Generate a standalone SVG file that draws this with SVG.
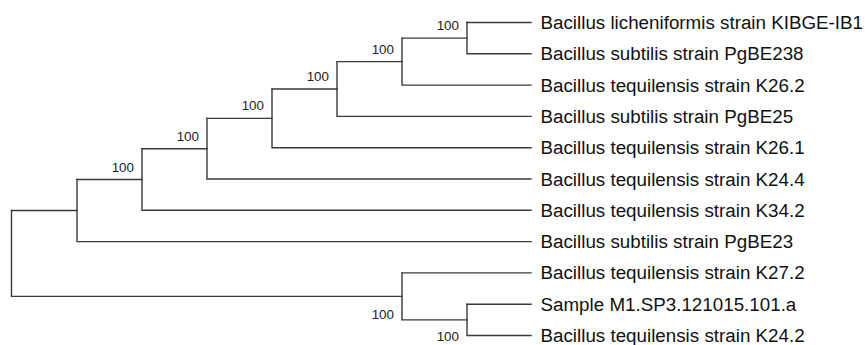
<svg xmlns="http://www.w3.org/2000/svg" width="865" height="345" viewBox="0 0 865 345">
<style>
.edge{fill:none;stroke:#3a3a3a;stroke-width:1.4;stroke-linecap:square}
.leaf{font-family:"Liberation Sans",Arial,sans-serif;font-size:18.8px;fill:#111}
.bs{font-family:"Liberation Sans",Arial,sans-serif;font-size:13.4px;fill:#222;text-anchor:end}
</style>
<rect width="865" height="345" fill="#fff"/>
<g id="connectors">
<path class="edge" d="M11.5,210.55 V296.4 H402"/>
<path class="edge" d="M11.5,210.55 H77"/>
<path class="edge" d="M77,179.5 V241.6 H531"/>
<path class="edge" d="M77,179.5 H142"/>
<path class="edge" d="M142,148.7 V210.3 H531"/>
<path class="edge" d="M142,148.7 H207"/>
<path class="edge" d="M207,118.35 V179 H531"/>
<path class="edge" d="M207,118.35 H272"/>
<path class="edge" d="M272,89 V147.7 H531"/>
<path class="edge" d="M272,89 H337"/>
<path class="edge" d="M337,61.6 V116.4 H531"/>
<path class="edge" d="M337,61.6 H402"/>
<path class="edge" d="M402,38.15 V85.1 H531"/>
<path class="edge" d="M402,38.15 H467"/>
<path class="edge" d="M467,22.5 V53.8 H531"/>
<path class="edge" d="M467,22.5 H531"/>
<path class="edge" d="M402,272.9 V319.85 H467"/>
<path class="edge" d="M402,272.9 H531"/>
<path class="edge" d="M467,304.2 V335.5 H531"/>
<path class="edge" d="M467,304.2 H531"/>
</g>
<g id="node-A"><text class="bs" x="459" y="30.2">100</text></g>
<g id="node-B"><text class="bs" x="394" y="53.6">100</text></g>
<g id="node-C"><text class="bs" x="329" y="81">100</text></g>
<g id="node-D"><text class="bs" x="264" y="110.3">100</text></g>
<g id="node-E"><text class="bs" x="199" y="140.7">100</text></g>
<g id="node-F"><text class="bs" x="134" y="171.5">100</text></g>
<g id="node-H"><text class="bs" x="394" y="318.5">100</text></g>
<g id="node-I"><text class="bs" x="459" y="340.5">100</text></g>
<g id="leaf-1"><text class="leaf" x="540.5" y="29">Bacillus licheniformis strain KIBGE-IB1</text></g>
<g id="leaf-2"><text class="leaf" x="540.5" y="60.3">Bacillus subtilis strain PgBE238</text></g>
<g id="leaf-3"><text class="leaf" x="540.5" y="91.6">Bacillus tequilensis strain K26.2</text></g>
<g id="leaf-4"><text class="leaf" x="540.5" y="122.9">Bacillus subtilis strain PgBE25</text></g>
<g id="leaf-5"><text class="leaf" x="540.5" y="154.2">Bacillus tequilensis strain K26.1</text></g>
<g id="leaf-6"><text class="leaf" x="540.5" y="185.5">Bacillus tequilensis strain K24.4</text></g>
<g id="leaf-7"><text class="leaf" x="540.5" y="216.8">Bacillus tequilensis strain K34.2</text></g>
<g id="leaf-8"><text class="leaf" x="540.5" y="248.1">Bacillus subtilis strain PgBE23</text></g>
<g id="leaf-9"><text class="leaf" x="540.5" y="279.4">Bacillus tequilensis strain K27.2</text></g>
<g id="leaf-10"><text class="leaf" x="540.5" y="310.7">Sample M1.SP3.121015.101.a</text></g>
<g id="leaf-11"><text class="leaf" x="540.5" y="342">Bacillus tequilensis strain K24.2</text></g>
</svg>
